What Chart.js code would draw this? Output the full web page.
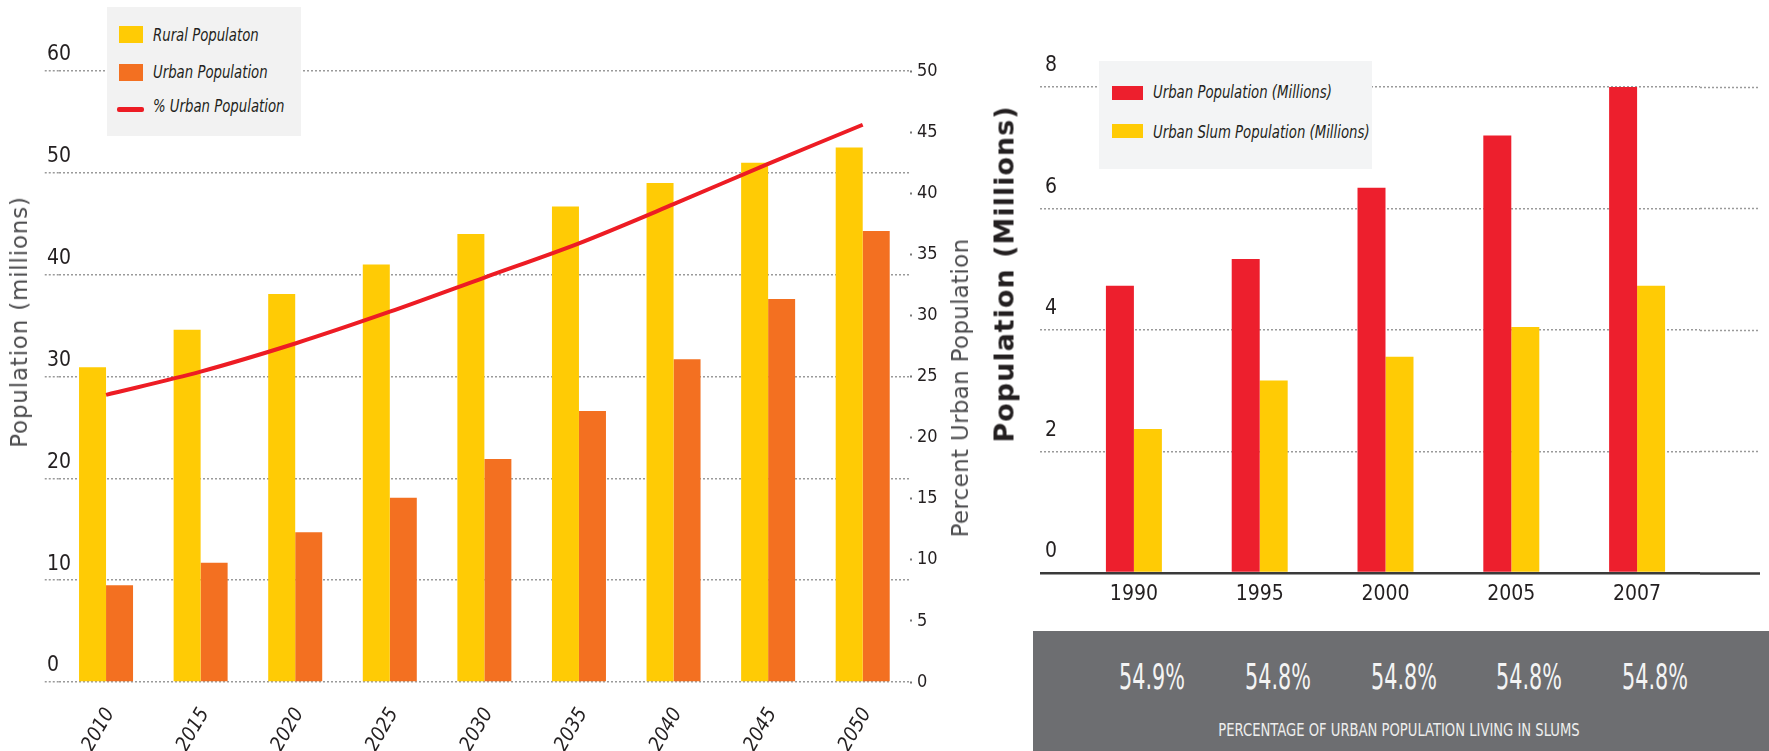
<!DOCTYPE html>
<html>
<head>
<meta charset="utf-8">
<script src="https://cdn.jsdelivr.net/npm/chart.js@4.4.1/dist/chart.umd.min.js"></script>
<style>
  html, body { margin: 0; padding: 0; background: #fff; }
  #page { position: relative; width: 1769px; height: 751px; overflow: hidden;
          font-family: 'Liberation Sans Narrow', 'DejaVu Sans Condensed', 'Arial Narrow', sans-serif; color: #231f20; }
  canvas { position: absolute; top: 0; }
  #popChart  { left: 0; }
  #slumChart { left: 960px; }
  .legend { position: absolute; }
  .lg-item { position: absolute; font-style: italic; font-size: 18px; white-space: nowrap; line-height: 1;
             transform-origin: 0 50%; transform: translateY(-50%) scaleX(.82); }
  .sw { position: absolute; }
  .vtitle { position: absolute; white-space: nowrap; transform: translate(-50%, -50%) rotate(-90deg);
            font-family: 'DejaVu Sans', sans-serif; }
  #slumBox { position: absolute; left: 1033px; top: 631px; width: 736px; height: 120px; background: #6d6e71; }
  .pct { position: absolute; top: 677px; font-size: 36px; color: #f4f4f4; white-space: nowrap; line-height: 1;
         transform: translate(-50%, -50%) scaleX(.64); }
  #slumCaption { position: absolute; left: 1399px; top: 730px; font-size: 17px; color: #eeeeee; white-space: nowrap;
                 line-height: 1; transform: translate(-50%, -50%) scaleX(.86); }
</style>
</head>
<body>
<div id="page">
  <canvas id="popChart" width="960" height="751"></canvas>
  <canvas id="slumChart" width="809" height="751"></canvas>

  <!-- titres d'axes -->
  <div class="vtitle" style="left:19px; top:322px; font-size:23px; color:#4d4d4f; letter-spacing:.8px;">Population (millions)</div>
  <div class="vtitle" style="left:960px; top:388px; font-size:23px; color:#4d4d4f; letter-spacing:.3px;">Percent Urban Population</div>
  <div class="vtitle" style="left:1004px; top:274px; font-size:27px; font-weight:bold; color:#231f20; letter-spacing:1px;">Population (Millions)</div>

  <!-- légende gauche -->
  <div class="legend" style="left:107px; top:7px; width:194px; height:129px; background:#f2f2f2;"></div>
  <div class="sw" style="left:119px; top:26px; width:24px; height:17px; background:#ffcb05;"></div>
  <div class="lg-item" style="left:153px; top:35px;" id="lgRural"></div>
  <div class="sw" style="left:119px; top:64px; width:24px; height:17px; background:#f37021;"></div>
  <div class="lg-item" style="left:153px; top:72px;" id="lgUrban"></div>
  <div class="sw" style="left:117px; top:107px; width:27px; height:5px; background:#ed1c24; border-radius:2px;"></div>
  <div class="lg-item" style="left:153px; top:106px;" id="lgPct"></div>

  <!-- légende droite -->
  <div class="legend" style="left:1099px; top:61px; width:273px; height:108px; background:#f3f4f5;"></div>
  <div class="sw" style="left:1112px; top:86px; width:31px; height:14px; background:#ed1f2d;"></div>
  <div class="lg-item" style="left:1153px; top:92px;" id="lgUrbanM"></div>
  <div class="sw" style="left:1112px; top:124px; width:31px; height:14px; background:#ffcb05;"></div>
  <div class="lg-item" style="left:1153px; top:132px;" id="lgSlumM"></div>

  <div id="slumBox"></div>
  <div id="slumCaption">PERCENTAGE OF URBAN POPULATION LIVING IN SLUMS</div>
</div>

<script>
// --- données graphique de gauche ---
const years     = ['2010', '2015', '2020', '2025', '2030', '2035', '2040', '2045', '2050'];
const rural     = [30.9, 34.6, 38.1, 41.0, 44.0, 46.7, 49.0, 51.0, 52.5];
const urban     = [9.5, 11.7, 14.7, 18.1, 21.9, 26.6, 31.7, 37.6, 44.3];
const pctUrban  = [23.5, 25.4, 27.7, 30.3, 33.1, 35.9, 39.1, 42.4, 45.6];

// --- données graphique de droite ---
const slumYears = ['1990', '1995', '2000', '2005', '2007'];
const urbanPop  = [4.73, 5.17, 6.34, 7.2, 8.0];
const slumPop   = [2.37, 3.17, 3.56, 4.05, 4.73];
const slumPct   = ['54.9%', '54.8%', '54.8%', '54.8%', '54.8%'];

const YELLOW = '#ffcb05', ORANGE = '#f37021', RED = '#ed1c24', RED2 = '#ed1f2d';
const GRID = '#9a9a9a', AXIS = '#3a3a3a', TXT = '#231f20';
const FONT = "'Liberation Sans Narrow', 'DejaVu Sans Condensed', 'Arial Narrow', sans-serif";

document.getElementById('lgRural').textContent  = 'Rural Populaton';
document.getElementById('lgUrban').textContent  = 'Urban Population';
document.getElementById('lgPct').textContent    = '% Urban Population';
document.getElementById('lgUrbanM').textContent = 'Urban Population (Millions)';
document.getElementById('lgSlumM').textContent  = 'Urban Slum Population (Millions)';

const popChart = new Chart(document.getElementById('popChart'), {
  data: {
    labels: years,
    datasets: [
      { type: 'line', label: '% Urban Population', data: pctUrban, yAxisID: 'y2',
        borderColor: RED, borderWidth: 4, pointRadius: 0, tension: 0.3, order: 0 },
      { type: 'bar', label: 'Rural Populaton', data: rural, backgroundColor: YELLOW,
        categoryPercentage: 0.571, barPercentage: 1, order: 1 },
      { type: 'bar', label: 'Urban Population', data: urban, backgroundColor: ORANGE,
        categoryPercentage: 0.571, barPercentage: 1, order: 1 },
    ],
  },
  options: {
    responsive: false,
    animation: false,
    layout: { padding: { left: 47, top: 71, right: 0, bottom: 0 } },
    plugins: { legend: { display: false }, tooltip: { enabled: false } },
    scales: {
      x: {
        grid: { display: false, drawTicks: false },
        border: { display: false },
        ticks: { minRotation: 60, maxRotation: 60, padding: 22, labelOffset: 4, color: TXT,
                 font: { family: FONT, size: 20, style: 'italic' } },
        afterFit: s => { s.height = 69; },
      },
      y: {
        position: 'left', min: 0, max: 60,
        ticks: { stepSize: 10, mirror: true, padding: -11.75, labelOffset: -16, color: TXT,
                 font: { family: FONT, size: 21 } },
        grid: { color: GRID, lineWidth: 1.5, tickLength: 14, tickColor: GRID, tickWidth: 1.5, tickBorderDash: [2, 2] },
        border: { display: false, dash: [2, 2] },
        afterFit: s => { s.width = 11.75; },
      },
      y2: {
        position: 'right', min: 0, max: 50,
        ticks: { stepSize: 5, padding: 5, color: TXT, font: { family: FONT, size: 18 } },
        grid: { drawOnChartArea: false, tickLength: 2, tickColor: '#777', tickWidth: 2 },
        border: { display: false },
        afterFit: s => { s.width = 50; },
      },
    },
  },
});

const isZero = ctx => ctx.tick && ctx.tick.value === 0;

const slumChart = new Chart(document.getElementById('slumChart'), {
  type: 'bar',
  data: {
    labels: slumYears,
    datasets: [
      { label: 'Urban Population (Millions)', data: urbanPop, backgroundColor: RED2,
        categoryPercentage: 0.445, barPercentage: 1 },
      { label: 'Urban Slum Population (Millions)', data: slumPop, backgroundColor: YELLOW,
        categoryPercentage: 0.445, barPercentage: 1 },
    ],
  },
  options: {
    responsive: false,
    animation: false,
    layout: { padding: { left: 85, top: 87, right: 0, bottom: 118 } },
    plugins: { legend: { display: false }, tooltip: { enabled: false } },
    scales: {
      x: {
        grid: { display: false, drawTicks: false },
        border: { display: false },
        ticks: { padding: 9, color: TXT, font: { family: FONT, size: 21 } },
        afterFit: s => { s.height = 60; },
      },
      y: {
        position: 'left', min: 0, max: 8,
        ticks: { stepSize: 2, crossAlign: 'far', labelOffset: -21, color: TXT, font: { family: FONT, size: 21 } },
        grid: {
          color: ctx => isZero(ctx) ? AXIS : GRID,
          lineWidth: ctx => isZero(ctx) ? 2.5 : 1.5,
          tickLength: 31,
          tickColor: ctx => isZero(ctx) ? AXIS : GRID,
          tickWidth: ctx => isZero(ctx) ? 2.5 : 1.5,
          tickBorderDash: ctx => isZero(ctx) ? [] : [2, 2],
        },
        border: { display: false, dash: ctx => isZero(ctx) ? [] : [2, 2] },
        afterFit: s => { s.width = 26; },
      },
      y2: {
        position: 'right', min: 0, max: 8,
        ticks: { display: false, stepSize: 2 },
        grid: {
          drawOnChartArea: false,
          tickLength: 60,
          tickColor: ctx => isZero(ctx) ? AXIS : GRID,
          tickWidth: ctx => isZero(ctx) ? 2.5 : 1.5,
          tickBorderDash: ctx => isZero(ctx) ? [] : [2, 2],
        },
        border: { display: false },
        afterFit: s => { s.width = 69; },
      },
    },
  },
});

// pourcentages sous chaque groupe, placés d'après l'échelle x du graphique
const page = document.getElementById('page');
slumPct.forEach((txt, i) => {
  const d = document.createElement('div');
  d.className = 'pct';
  d.textContent = txt;
  d.style.left = (960 + slumChart.scales.x.getPixelForValue(i) + 18) + 'px';
  page.appendChild(d);
});
</script>
</body>
</html>
